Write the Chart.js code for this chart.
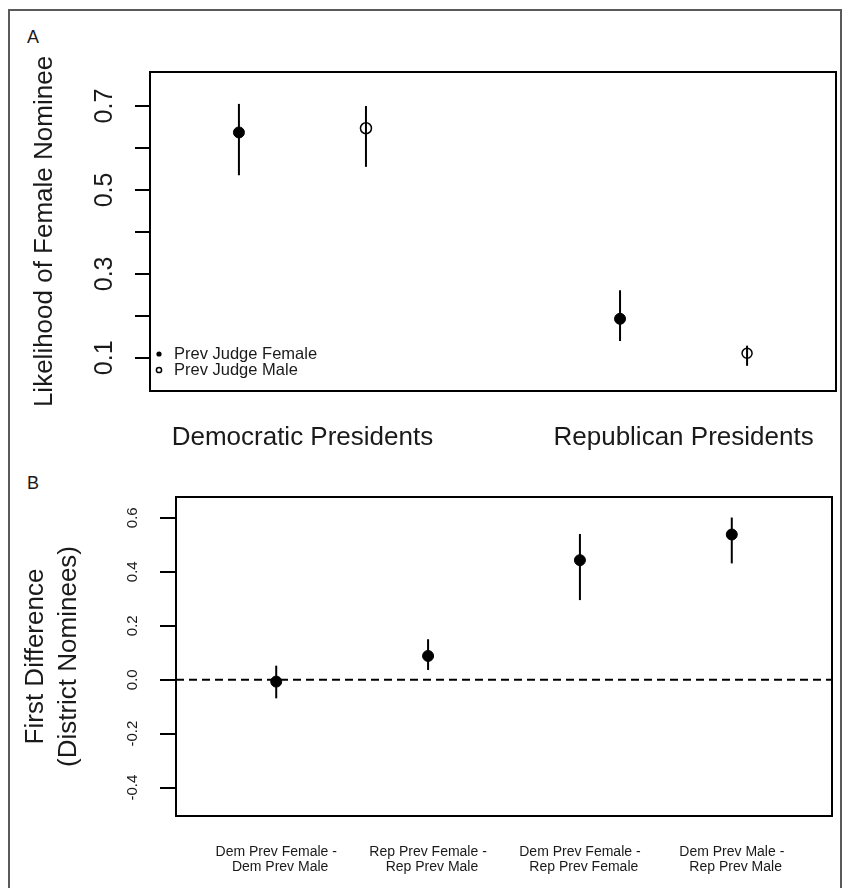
<!DOCTYPE html>
<html>
<head>
<meta charset="utf-8">
<script src="https://cdn.jsdelivr.net/npm/chart.js@4"></script>
<style>
  body { margin: 0; background: #fff; }
  #wrap { position: relative; width: 843px; height: 888px; overflow: hidden; }
  #frame { position: absolute; left: 8px; top: 9px; width: 834px; height: 880px; border: 2px solid #5a5a5a; border-bottom: none; box-sizing: border-box; }
  canvas { position: absolute; left: 0; }
  .tag { position: absolute; font: 18px 'Liberation Sans', Arial, sans-serif; line-height: 20px; color: #1a1a1a; }
</style>
</head>
<body>
<div id="wrap">
  <div id="frame"></div>
  <div class="tag" style="left:27px; top:27px;">A</div>
  <div class="tag" style="left:27px; top:473px;">B</div>
  <canvas id="panelA" width="843" height="460" style="top:0;"></canvas>
  <canvas id="panelB" width="843" height="428" style="top:460px;"></canvas>
</div>
<script>
const FONT = "'Liberation Sans', Arial, sans-serif";
const NARROW = "'Liberation Sans Narrow', 'Liberation Sans', Arial, sans-serif";

// panel A: likelihood of a female nominee
const presidentGroups = ['Democratic Presidents', 'Republican Presidents'];
const groupPos = [1.5, 4.5];
const femaleX = [1, 4];
const femaleEst = [0.637, 0.193];
const femaleLo = [0.535, 0.140];
const femaleHi = [0.705, 0.261];
const maleX = [2, 5];
const maleEst = [0.647, 0.111];
const maleLo = [0.555, 0.081];
const maleHi = [0.700, 0.129];
const tickValsA = [0.1, 0.2, 0.3, 0.4, 0.5, 0.6, 0.7];
const tickLabelsA = ['0.1', '', '0.3', '', '0.5', '', '0.7'];

// panel B: first differences
const diffLabels = [
  ['Dem Prev Female -', '  Dem Prev Male'],
  ['Rep Prev Female -', '  Rep Prev Male'],
  ['Dem Prev Female -', '  Rep Prev Female'],
  ['Dem Prev Male -', '  Rep Prev Male']
];
const diffX = [1, 2, 3, 4];
const diffEst = [-0.007, 0.088, 0.443, 0.538];
const diffLo = [-0.069, 0.036, 0.295, 0.431];
const diffHi = [0.052, 0.150, 0.540, 0.601];
const tickValsB = [-0.4, -0.2, 0.0, 0.2, 0.4, 0.6];
const tickLabelsB = ['-0.4', '-0.2', '0.0', '0.2', '0.4', '0.6'];
const refLine = 0;

// whiskers (and optional dashed reference line) under the points
const whiskers = {
  id: 'whiskers',
  beforeDatasetsDraw(chart, args, opts) {
    const { ctx, chartArea: a, scales: { x, y } } = chart;
    ctx.save();
    ctx.strokeStyle = '#000';
    ctx.lineWidth = 2;
    if (opts.refLine !== undefined && opts.refLine !== null) {
      const py = y.getPixelForValue(opts.refLine);
      ctx.setLineDash([8, 5]);
      ctx.beginPath();
      ctx.moveTo(a.left, py);
      ctx.lineTo(a.right, py);
      ctx.stroke();
      ctx.setLineDash([]);
    }
    chart.data.datasets.forEach(ds => {
      ds.data.forEach((p, i) => {
        const px = x.getPixelForValue(p.x);
        ctx.beginPath();
        ctx.moveTo(px, y.getPixelForValue(ds.lo[i]));
        ctx.lineTo(px, y.getPixelForValue(ds.hi[i]));
        ctx.stroke();
      });
    });
    ctx.restore();
  }
};

// R style box + rotated y tick labels
const rBox = {
  id: 'rBox',
  afterDraw(chart, args, opts) {
    const { ctx, chartArea: a, scales: { y } } = chart;
    ctx.save();
    ctx.strokeStyle = '#000';
    ctx.lineWidth = 2;
    ctx.strokeRect(a.left, a.top, a.right - a.left, a.bottom - a.top);
    ctx.fillStyle = '#1a1a1a';
    ctx.font = opts.font;
    ctx.textAlign = 'center';
    ctx.textBaseline = 'middle';
    opts.values.forEach((v, i) => {
      if (!opts.labels[i]) return;
      ctx.save();
      ctx.translate(a.left - opts.offset, y.getPixelForValue(v));
      ctx.rotate(-Math.PI / 2);
      ctx.fillText(opts.labels[i], 0, 0);
      ctx.restore();
    });
    ctx.restore();
  }
};

const cornerLegend = {
  id: 'cornerLegend',
  afterDraw(chart) {
    const { ctx, chartArea: a } = chart;
    ctx.save();
    ctx.font = '16.5px ' + FONT;
    ctx.textAlign = 'left';
    ctx.textBaseline = 'middle';
    chart.data.datasets.forEach((ds, i) => {
      const yy = a.bottom - 37 + i * 16;
      ctx.beginPath();
      ctx.arc(a.left + 9, yy, 2.6, 0, Math.PI * 2);
      if (ds.filled) {
        ctx.fillStyle = '#000';
        ctx.fill();
      } else {
        ctx.lineWidth = 1.5;
        ctx.strokeStyle = '#000';
        ctx.stroke();
      }
      ctx.fillStyle = '#1a1a1a';
      ctx.fillText(ds.label, a.left + 24, yy);
    });
    ctx.restore();
  }
};

// keep the plot box where the layout padding puts it
const noLabelOverflow = s => { s.paddingLeft = 0; s.paddingRight = 0; };

new Chart(document.getElementById('panelA'), {
  type: 'scatter',
  data: {
    datasets: [
      {
        label: 'Prev Judge Female', filled: true,
        data: femaleX.map((x, i) => ({ x, y: femaleEst[i] })),
        lo: femaleLo, hi: femaleHi,
        pointRadius: 5.5, backgroundColor: '#000', borderColor: '#000', borderWidth: 1
      },
      {
        label: 'Prev Judge Male', filled: false,
        data: maleX.map((x, i) => ({ x, y: maleEst[i] })),
        lo: maleLo, hi: maleHi,
        pointRadius: [5.5, 5], backgroundColor: 'rgba(0,0,0,0)', borderColor: '#000', borderWidth: 1.5
      }
    ]
  },
  options: {
    responsive: false,
    animation: false,
    events: [],
    layout: { padding: { top: 72, right: 6, left: 0, bottom: 0 } },
    plugins: {
      legend: { display: false },
      tooltip: { enabled: false },
      rBox: { values: tickValsA, labels: tickLabelsA, offset: 45, font: '25px ' + FONT }
    },
    scales: {
      x: {
        type: 'linear', min: 0.3, max: 5.7,
        afterBuildTicks: s => { s.ticks = groupPos.map(v => ({ value: v })); },
        afterFit: s => { s.height = 69; noLabelOverflow(s); },
        grid: { display: false, drawTicks: false },
        border: { display: false },
        ticks: {
          callback: (v, i) => presidentGroups[i],
          font: { family: FONT, size: 26 }, color: '#1a1a1a',
          padding: 31, maxRotation: 0, autoSkip: false
        }
      },
      y: {
        min: 0.021, max: 0.781,
        afterBuildTicks: s => { s.ticks = tickValsA.map(v => ({ value: v })); },
        afterFit: s => { s.width = 150; },
        grid: { drawOnChartArea: false, color: '#000', lineWidth: 2, tickLength: 15 },
        border: { display: false },
        ticks: { display: false },
        title: {
          display: true, text: 'Likelihood of Female Nominee',
          font: { family: FONT, size: 26 }, color: '#1a1a1a', padding: { top: 29, bottom: 0 }
        }
      }
    }
  },
  plugins: [whiskers, rBox, cornerLegend]
});

new Chart(document.getElementById('panelB'), {
  type: 'scatter',
  data: {
    datasets: [{
      label: 'First Difference',
      data: diffX.map((x, i) => ({ x, y: diffEst[i] })),
      lo: diffLo, hi: diffHi,
      pointRadius: 5.5, backgroundColor: '#000', borderColor: '#000', borderWidth: 1
    }]
  },
  options: {
    responsive: false,
    animation: false,
    events: [],
    layout: { padding: { top: 37, right: 11, left: 0, bottom: 0 } },
    plugins: {
      legend: { display: false },
      tooltip: { enabled: false },
      whiskers: { refLine: refLine },
      rBox: { values: tickValsB, labels: tickLabelsB, offset: 43, font: '15px ' + FONT }
    },
    scales: {
      x: {
        type: 'linear', min: 0.34, max: 4.66,
        afterBuildTicks: s => { s.ticks = diffX.map(v => ({ value: v })); },
        afterFit: s => { s.height = 72; noLabelOverflow(s); },
        grid: { display: false, drawTicks: false },
        border: { display: false },
        ticks: {
          callback: (v, i) => diffLabels[i],
          font: { family: NARROW, size: 14, lineHeight: 1.05 }, color: '#1a1a1a',
          padding: 29, maxRotation: 0, autoSkip: false
        }
      },
      y: {
        min: -0.505, max: 0.677,
        afterBuildTicks: s => { s.ticks = tickValsB.map(v => ({ value: v })); },
        afterFit: s => { s.width = 176; },
        grid: { drawOnChartArea: false, color: '#000', lineWidth: 2, tickLength: 16 },
        border: { display: false },
        ticks: { display: false },
        title: {
          display: true, text: ['First Difference', '(District Nominees)'],
          font: { family: FONT, size: 26, lineHeight: 1.25 }, color: '#1a1a1a', padding: { top: 20, bottom: 0 }
        }
      }
    }
  },
  plugins: [whiskers, rBox]
});
</script>
</body>
</html>
